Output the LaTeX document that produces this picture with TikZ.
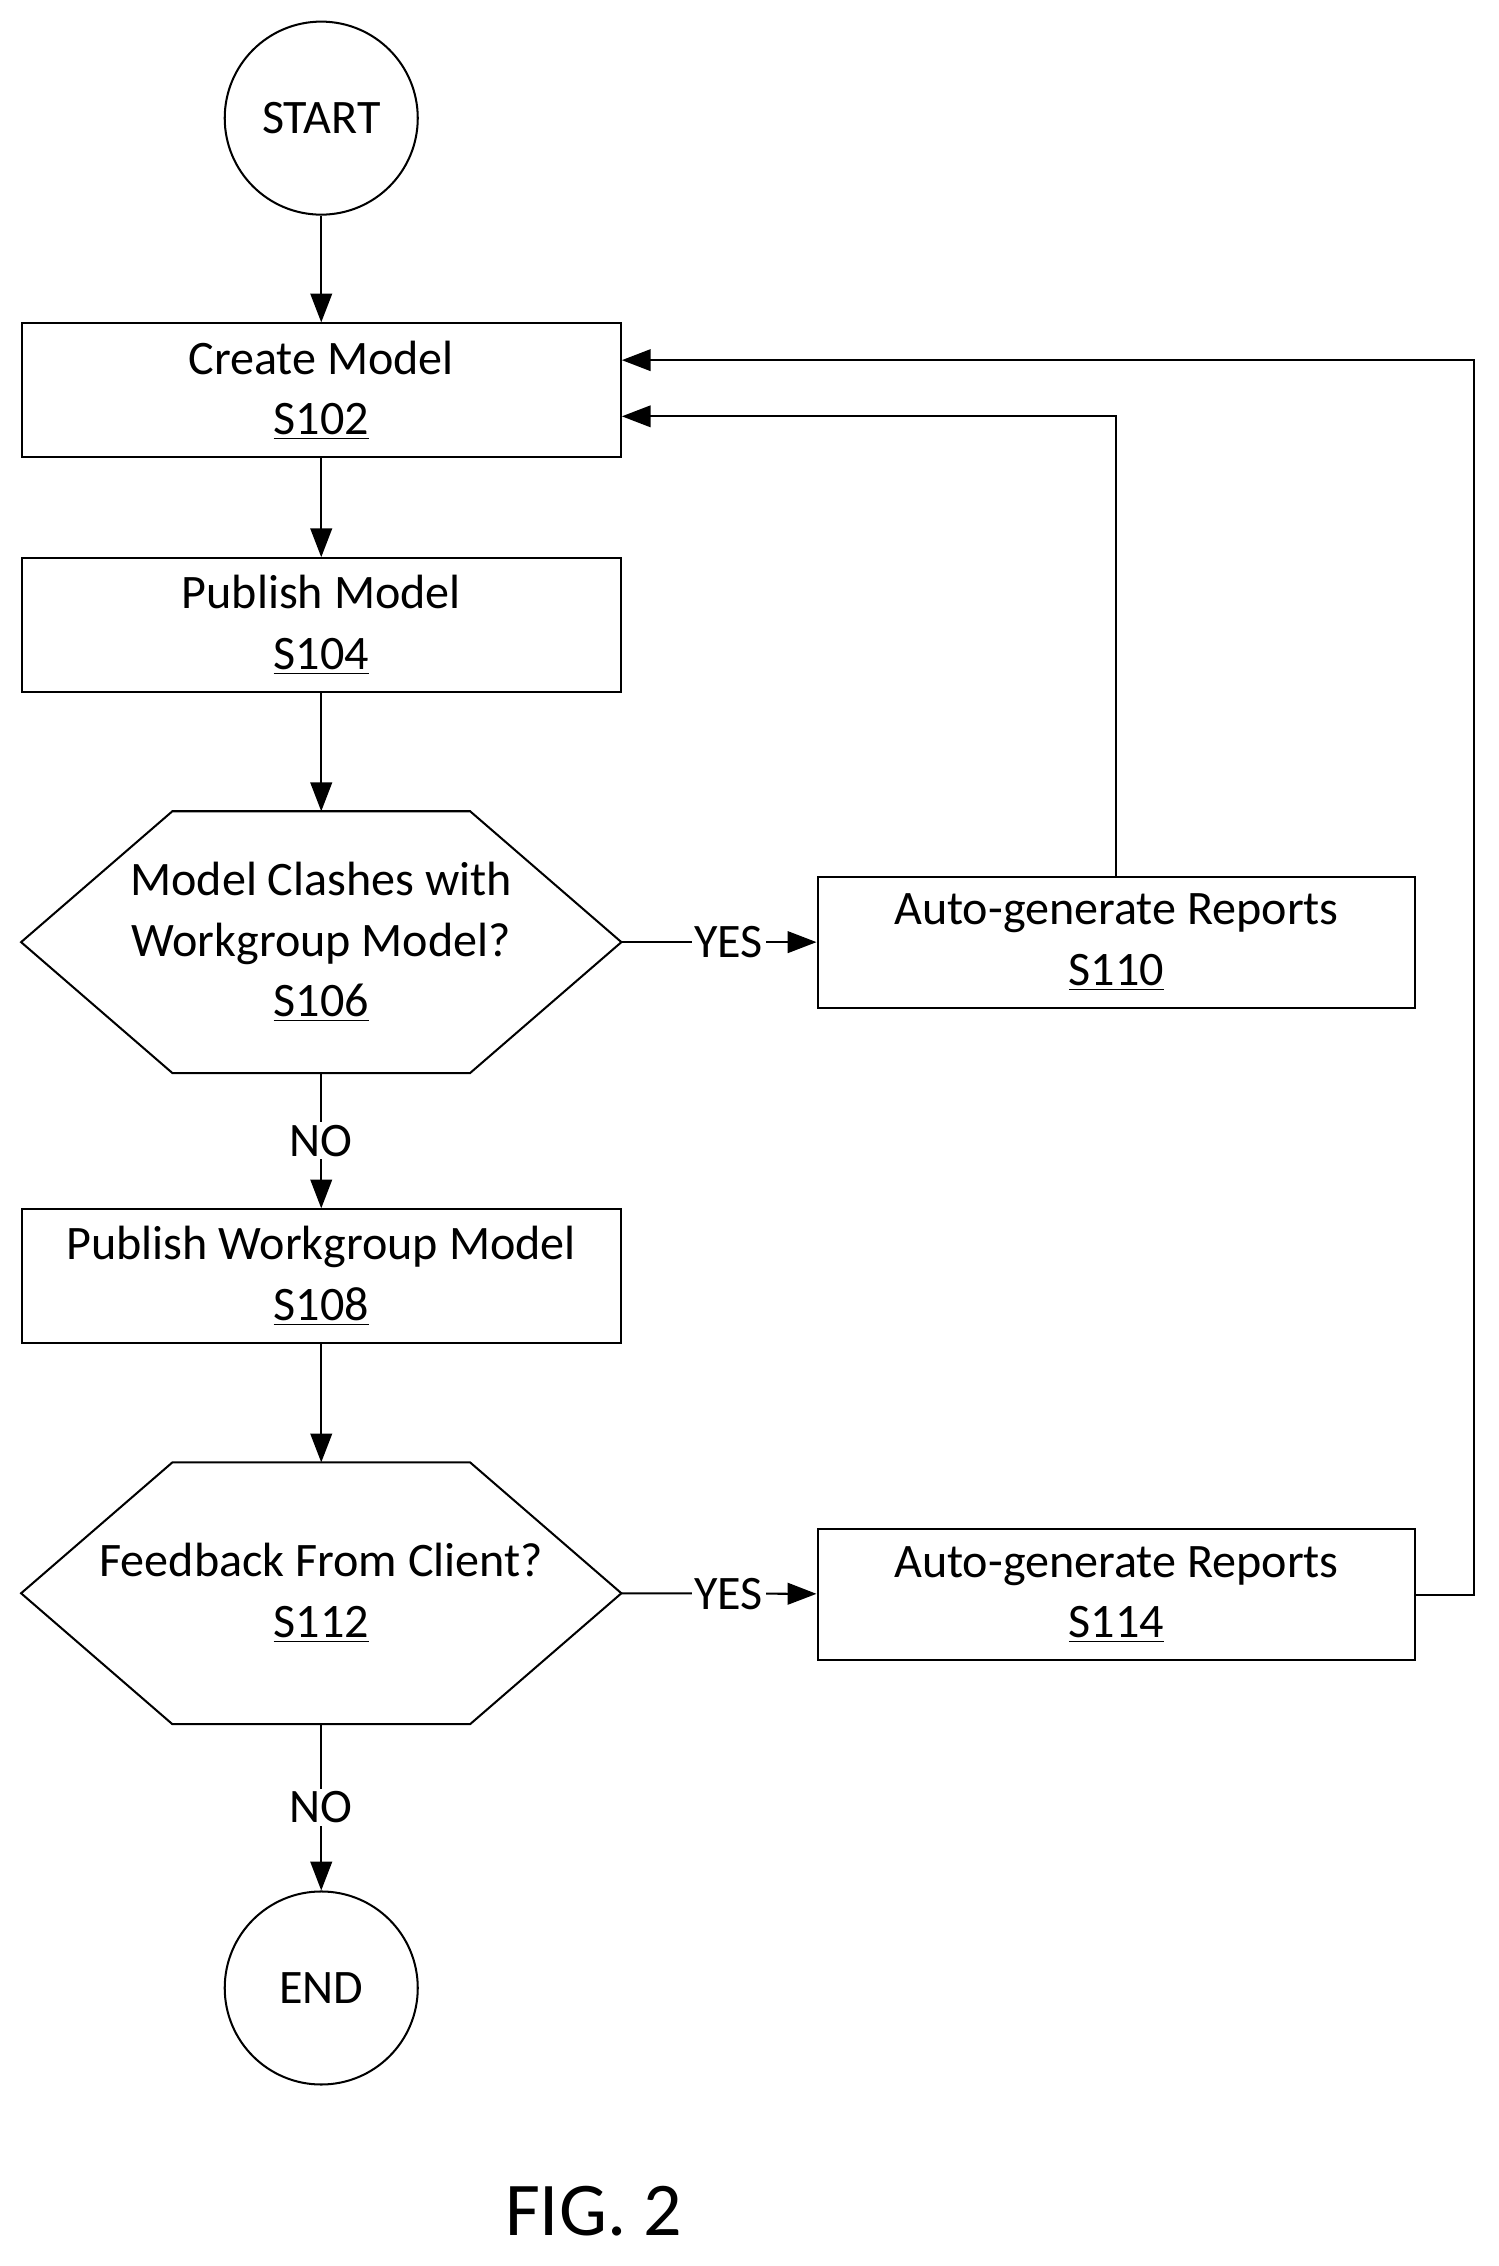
\documentclass[tikz,border=0pt]{standalone}
\usepackage{fontspec}
\setmainfont{Carlito}
\usetikzlibrary{arrows.meta,calc}
\tikzset{
  procbox/.style={draw, thick, minimum width=8.32cm, minimum height=1.86cm, align=center, font=\fontsize{19}{24}\selectfont},
  termnode/.style={draw, thick, circle, minimum size=2.68cm, font=\fontsize{19}{24}\selectfont},
  testnode/.style={minimum width=8.32cm, minimum height=3.62cm, align=center, font=\fontsize{19}{24}\selectfont},
  flow/.style={thick, -{Triangle[length=0.4cm,width=0.3cm]}},
  lbl/.style={fill=white, inner sep=1pt, font=\fontsize{19}{24}\selectfont}
}
\newcommand{\hexframe}[1]{%
  \draw[thick] (#1.west) -- ($(#1.north west)+(2.1,0)$) -- ($(#1.north east)+(-2.1,0)$)
    -- (#1.east) -- ($(#1.south east)+(-2.1,0)$) -- ($(#1.south west)+(2.1,0)$) -- cycle;}
\begin{document}
\begin{tikzpicture}
    \useasboundingbox (0,0) rectangle (20.8,-31.46);
    \node[termnode] (start) at (4.46,-1.64) {START};
    \node[procbox] (create) at (4.46,-5.42) {Create Model\\\underline{S102}};
    \node[procbox] (publish) at (4.46,-8.68) {Publish Model\\\underline{S104}};
    \node[testnode] (clash) at (4.46,-13.08) {Model Clashes with\\Workgroup Model?\\\underline{S106}};
    \hexframe{clash}
    \node[procbox] (pubwg) at (4.46,-17.72) {Publish Workgroup Model\\\underline{S108}};
    \node[testnode] (feedback) at (4.46,-22.12) {Feedback From Client?\\\underline{S112}};
    \hexframe{feedback}
    \node[termnode] (end) at (4.46,-27.6) {END};
    \node[procbox, minimum width=8.3cm, minimum height=1.82cm] (rep1) at (15.5,-13.08) {Auto-generate Reports\\\underline{S110}};
    \node[procbox, minimum width=8.3cm, minimum height=1.82cm] (rep2) at (15.5,-22.14) {Auto-generate Reports\\\underline{S114}};
    \node[font=\fontsize{30}{36}\selectfont] (fig) at (8.24,-30.7) {FIG. 2};

    \draw[flow] (start) -- (create);
    \draw[flow] (create) -- (publish);
    \draw[flow] (publish) -- (clash.north);
    \draw[flow] (clash.south) -- node[lbl, pos=0.5] {NO} (pubwg);
    \draw[flow] (clash.east) -- node[lbl, pos=0.55] {YES} (rep1);
    \draw[flow] (pubwg) -- (feedback.north);
    \draw[flow] (feedback.south) -- node[lbl, pos=0.5] {NO} (end);
    \draw[flow] (feedback.east) -- node[lbl, pos=0.55] {YES} (rep2);
    \draw[flow] (rep1.north) |- ($(create.east)+(0,-0.36)$);
    \draw[flow] (rep2.east) -- ++(0.8,0) |- ($(create.east)+(0,0.42)$);
\end{tikzpicture}
\end{document}
